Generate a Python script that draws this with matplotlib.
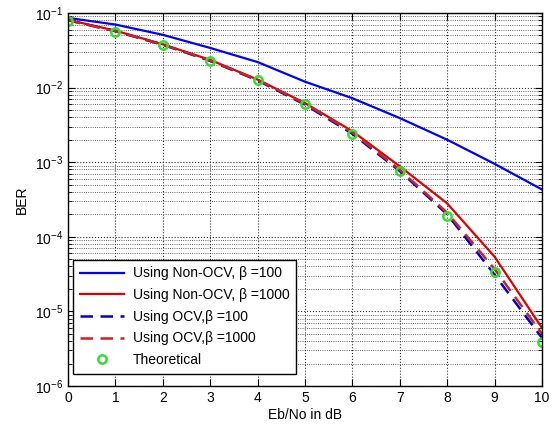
import matplotlib
matplotlib.use("Agg")
import matplotlib.pyplot as plt
from matplotlib.ticker import LogLocator, NullFormatter

plt.rcParams['font.family'] = ['Liberation Sans', 'DejaVu Sans']

# Eb/No axis (dB)
ebno = [0, 1, 2, 3, 4, 5, 6, 7, 8, 9, 10]

# BER values
nonocv_100 = [0.086, 0.070, 0.051, 0.034, 0.022, 0.0120, 0.0072, 0.0039, 0.0020, 0.00095, 0.00043]
nonocv_1000 = [0.081, 0.058, 0.038, 0.0235, 0.0128, 0.0062, 0.0026, 0.00088, 0.00028, 5.4e-5, 6.0e-6]
ocv_100 = [0.080, 0.057, 0.0375, 0.0228, 0.0125, 0.0059, 0.0024, 0.00076, 0.00020, 3.1e-5, 4.4e-6]
ocv_1000 = [0.080, 0.057, 0.0378, 0.0231, 0.0127, 0.0061, 0.0025, 0.00079, 0.00021, 3.7e-5, 5.0e-6]
theory = [0.0786, 0.0563, 0.0375, 0.0229, 0.0125, 0.00595, 0.00239, 0.000773, 0.000191, 3.36e-5, 3.87e-6]

fig = plt.figure(figsize=(5.6, 4.29), dpi=100)
ax = fig.add_axes([68 / 560, 1 - 386 / 429, 474 / 560, 373 / 429])

ax.semilogy(ebno, nonocv_100, color='#0000ff', lw=1.6, label='Using Non-OCV, \u03b2 =100')
ax.semilogy(ebno, nonocv_1000, color='#e00000', lw=1.6, label='Using Non-OCV, \u03b2 =1000')
ax.semilogy(ebno, ocv_100, color='#0000c8', lw=1.8, ls=(0, (5, 3)), label='Using OCV,\u03b2 =100')
ax.semilogy(ebno, ocv_1000, color='#d02020', lw=1.8, ls=(0, (5, 3)), label='Using OCV,\u03b2 =1000')
ax.semilogy(ebno, theory, 'o', mfc='none', mec='#33dd33', mew=1.8, ms=6, ls='none', label='Theoretical')

ax.set_xlim(0, 10)
ax.set_ylim(1e-6, 1e-1)
ax.set_xticks(range(0, 11))
ax.yaxis.set_major_locator(LogLocator(base=10, numticks=10))
ax.yaxis.set_minor_locator(LogLocator(base=10, subs=range(2, 10), numticks=20))
ax.yaxis.set_minor_formatter(NullFormatter())

ax.grid(True, which='major', ls=':', color='#333333', lw=0.8)
ax.grid(True, which='minor', axis='y', ls=':', color='#333333', lw=0.6)
ax.tick_params(which='both', direction='in', top=True, right=True, labelsize=10)
ax.tick_params(which='major', length=5)
ax.tick_params(which='minor', length=3)
for s in ax.spines.values():
    s.set_linewidth(1.0)

ax.set_xlabel('Eb/No in dB', fontsize=10, labelpad=2)
ax.set_ylabel('BER', fontsize=10, labelpad=4)

leg = ax.legend(loc='lower left', bbox_to_anchor=(5 / 474, 12 / 373), borderaxespad=0,
                fontsize=10, fancybox=False, framealpha=1, edgecolor='k',
                handlelength=3.2, handletextpad=0.6, labelspacing=0.55, borderpad=0.5)
leg.get_frame().set_linewidth(1.0)

fig.savefig('out.png', dpi=100)
